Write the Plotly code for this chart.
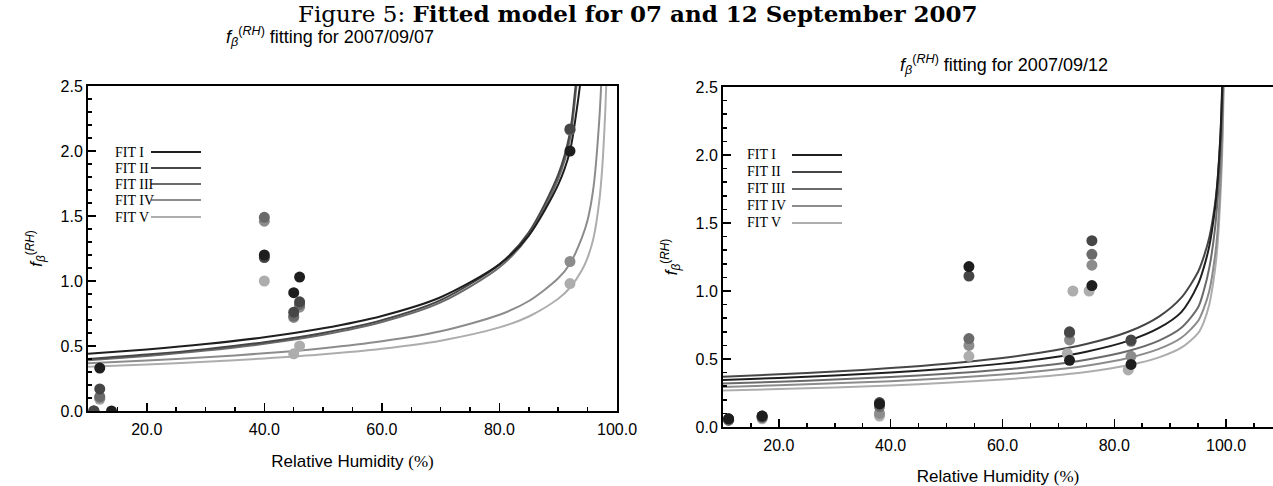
import plotly.graph_objects as go

W, H = 1273, 486

# ---------------- data: left panel (2007/09/07) ----------------
L_I_rh = [10, 20, 30, 40, 50, 60, 70, 80, 85, 90, 92, 93, 94, 95]
L_I_v = [0.44, 0.474, 0.515, 0.567, 0.636, 0.731, 0.875, 1.128, 1.351, 1.741, 2.0, 2.27, 2.62, 3.1]
L_II_rh = [10, 20, 30, 40, 50, 60, 70, 80, 85, 90, 92, 93, 94]
L_II_v = [0.40, 0.434, 0.476, 0.529, 0.600, 0.699, 0.853, 1.128, 1.375, 1.818, 2.14, 2.52, 2.95]
L_III_rh = [10, 20, 30, 40, 50, 60, 70, 80, 85, 90, 92, 93, 94]
L_III_v = [0.39, 0.424, 0.465, 0.517, 0.586, 0.684, 0.835, 1.106, 1.349, 1.786, 2.09, 2.46, 2.9]
L_IV_rh = [10, 20, 30, 40, 50, 60, 70, 80, 85, 90, 92, 94, 95, 96, 97, 97.5]
L_IV_v = [0.368, 0.388, 0.413, 0.444, 0.483, 0.536, 0.613, 0.740, 0.846, 1.021, 1.133, 1.33, 1.47, 1.72, 2.25, 2.7]
L_V_rh = [10, 20, 30, 40, 50, 60, 70, 80, 85, 90, 92, 94, 95, 96, 97, 97.5, 98, 98.5]
L_V_v = [0.340, 0.357, 0.378, 0.404, 0.436, 0.479, 0.541, 0.643, 0.727, 0.863, 0.948, 1.08, 1.18, 1.33, 1.62, 1.88, 2.3, 2.9]

LP_I_rh = [14, 12, 40, 45, 46, 92]
LP_I_v = [0.0, 0.33, 1.20, 0.91, 1.03, 2.0]
LP_II_rh = [11, 12, 40, 45, 46, 92]
LP_II_v = [0.0, 0.17, 1.18, 0.76, 0.84, 2.17]
LP_III_rh = [11, 12, 40, 45, 46, 92]
LP_III_v = [0.0, 0.11, 1.49, 0.73, 0.82, 2.16]
LP_IV_rh = [11, 12, 40, 45, 46, 92]
LP_IV_v = [0.0, 0.10, 1.46, 0.72, 0.80, 1.15]
LP_V_rh = [11, 12, 40, 45, 46, 92]
LP_V_v = [0.0, 0.09, 1.0, 0.44, 0.50, 0.98]

# ---------------- data: right panel (2007/09/12) ----------------
R_I_rh = [10, 20, 30, 40, 50, 60, 67, 75, 82.5, 88, 92, 95, 96, 97, 98, 98.5, 99, 99.3, 99.5]
R_I_v = [0.345, 0.361, 0.379, 0.401, 0.429, 0.466, 0.500, 0.554, 0.633, 0.728, 0.845, 1.05, 1.17, 1.33, 1.6, 1.82, 2.15, 2.5, 2.85]
R_II_rh = [10, 20, 30, 40, 50, 60, 67, 75, 82.5, 88, 92, 95, 96, 97, 98, 98.5, 99, 99.3, 99.5]
R_II_v = [0.37, 0.387, 0.408, 0.433, 0.465, 0.507, 0.547, 0.610, 0.70, 0.812, 0.951, 1.142, 1.25, 1.394, 1.632, 1.82, 2.139, 2.458, 2.803]
R_III_rh = [10, 20, 30, 40, 50, 60, 67, 75, 82.5, 88, 92, 95, 96, 97, 98, 98.5, 99, 99.3, 99.5, 99.7]
R_III_v = [0.320, 0.333, 0.349, 0.368, 0.391, 0.422, 0.450, 0.495, 0.559, 0.635, 0.729, 0.88, 1.0, 1.17, 1.45, 1.68, 2.0, 2.3, 2.6, 3.0]
R_IV_rh = [10, 20, 30, 40, 50, 60, 67, 75, 82.5, 88, 92, 95, 96, 97, 98, 98.5, 99, 99.3, 99.5, 99.7]
R_IV_v = [0.295, 0.307, 0.321, 0.337, 0.358, 0.386, 0.411, 0.450, 0.507, 0.574, 0.656, 0.78, 0.87, 1.0, 1.25, 1.45, 1.8, 2.1, 2.45, 2.9]
R_V_rh = [10, 20, 30, 40, 50, 60, 67, 75, 82.5, 88, 92, 95, 96, 97, 98, 98.5, 99, 99.3, 99.5, 99.7, 99.85]
R_V_v = [0.269, 0.279, 0.291, 0.306, 0.325, 0.349, 0.371, 0.405, 0.454, 0.512, 0.583, 0.69, 0.77, 0.9, 1.15, 1.35, 1.7, 2.0, 2.35, 2.8, 3.3]

RP_I_rh = [11, 17, 38, 54, 72, 76, 83]
RP_I_v = [0.06, 0.08, 0.17, 1.18, 0.49, 1.04, 0.46]
RP_II_rh = [11, 17, 38, 54, 72, 76, 83]
RP_II_v = [0.06, 0.08, 0.18, 1.11, 0.70, 1.37, 0.64]
RP_III_rh = [11, 17, 38, 54, 72, 76, 83]
RP_III_v = [0.05, 0.07, 0.15, 0.65, 0.69, 1.27, 0.63]
RP_IV_rh = [11, 17, 38, 54, 72, 76, 83]
RP_IV_v = [0.05, 0.07, 0.10, 0.60, 0.64, 1.19, 0.52]
RP_V_rh = [11, 17, 38, 54, 71.6, 72.6, 75.5, 82.5]
RP_V_v = [0.05, 0.06, 0.08, 0.52, 0.54, 1.0, 1.0, 0.42]

FIT_NAMES = ["FIT I", "FIT II", "FIT III", "FIT IV", "FIT V"]
COLORS = ["#1e1e1e", "#464646", "#6a6a6a", "#8c8c8c", "#adadad"]

left_curves = [(L_I_rh, L_I_v), (L_II_rh, L_II_v), (L_III_rh, L_III_v), (L_IV_rh, L_IV_v), (L_V_rh, L_V_v)]
left_pts = [(LP_I_rh, LP_I_v), (LP_II_rh, LP_II_v), (LP_III_rh, LP_III_v), (LP_IV_rh, LP_IV_v), (LP_V_rh, LP_V_v)]
right_curves = [(R_I_rh, R_I_v), (R_II_rh, R_II_v), (R_III_rh, R_III_v), (R_IV_rh, R_IV_v), (R_V_rh, R_V_v)]
right_pts = [(RP_I_rh, RP_I_v), (RP_II_rh, RP_II_v), (RP_III_rh, RP_III_v), (RP_IV_rh, RP_IV_v), (RP_V_rh, RP_V_v)]

fig = go.Figure()

for (curves, pts, xa, ya) in [(left_curves, left_pts, "x", "y"), (right_curves, right_pts, "x2", "y2")]:
    for i in range(4, -1, -1):
        rh, v = curves[i]
        fig.add_trace(go.Scatter(x=rh, y=v, mode="lines", xaxis=xa, yaxis=ya,
                                 line=dict(color=COLORS[i], width=2, shape="spline", smoothing=0.8),
                                 showlegend=False, hoverinfo="skip"))
    for i in range(4, -1, -1):
        rh, v = pts[i]
        fig.add_trace(go.Scatter(x=rh, y=v, mode="markers", xaxis=xa, yaxis=ya,
                                 marker=dict(color=COLORS[i], size=11, line=dict(width=0)),
                                 showlegend=False))

SANS = "Liberation Sans, Arial, sans-serif"
SERIF = "Liberation Serif, Times New Roman, serif"


def px_x(p):
    return p / W


def px_y(p):
    return 1 - p / H


axis_common = dict(showline=True, mirror=True, linecolor="black", linewidth=2,
                   ticks="inside", ticklen=8, tickwidth=1.5, tickcolor="black",
                   showgrid=False, zeroline=False, automargin=False,
                   tickfont=dict(family=SANS, size=16, color="black"))

xtitle = "Relative Humidity <span style='font-family:Liberation Serif'>(%)</span>"
ytitle = "<i>f</i><sub><i>β</i></sub><sup>(<i>RH</i>)</sup>"

fig.update_layout(
    width=W, height=H, margin=dict(l=0, r=0, t=0, b=0, pad=0), autosize=False,
    paper_bgcolor="white", plot_bgcolor="white", showlegend=False,
    xaxis=dict(domain=[px_x(88), px_x(617)], range=[10, 100], anchor="y",
               tickmode="linear", tick0=0, dtick=20, tickformat=".1f", ticklabelstandoff=3,
               minor=dict(tickmode="linear", tick0=0, dtick=5, ticks="inside", ticklen=4, tickcolor="black"),
               title=dict(text=xtitle, font=dict(family=SANS, size=17, color="black"), standoff=18),
               **axis_common),
    yaxis=dict(domain=[px_y(411), px_y(86)], range=[0, 2.5], anchor="x",
               tickmode="linear", tick0=0, dtick=0.5, tickformat=".1f",
               minor=dict(tickmode="linear", tick0=0, dtick=0.1, ticks="inside", ticklen=4, tickcolor="black"),
               title=dict(text=ytitle, font=dict(family=SANS, size=17, color="black"), standoff=14),
               **axis_common),
    xaxis2=dict(domain=[px_x(723), 1.0], range=[10, 108.4], anchor="y2",
                tickmode="linear", tick0=0, dtick=20, tickformat=".1f", ticklabelstandoff=3,
                minor=dict(tickmode="linear", tick0=0, dtick=5, ticks="inside", ticklen=4, tickcolor="black"),
                title=dict(text=xtitle, font=dict(family=SANS, size=17, color="black"), standoff=18),
                **axis_common),
    yaxis2=dict(domain=[px_y(427), px_y(87)], range=[0, 2.5], anchor="x2",
                tickmode="linear", tick0=0, dtick=0.5, tickformat=".1f",
                minor=dict(tickmode="linear", tick0=0, dtick=0.1, ticks="inside", ticklen=4, tickcolor="black"),
                title=dict(text=ytitle, font=dict(family=SANS, size=17, color="black"), standoff=14),
                **axis_common),
)

annotations = [
    dict(text="Figure 5: <b>Fitted model for 07 and 12 September 2007</b>",
         x=px_x(638), y=px_y(13), xref="paper", yref="paper", showarrow=False,
         xanchor="center", yanchor="middle", font=dict(family="DejaVu Serif", size=23, color="black")),
    dict(text=ytitle + " fitting for 2007/09/07",
         x=px_x(330), y=px_y(36), xref="paper", yref="paper", showarrow=False,
         xanchor="center", yanchor="middle", font=dict(family=SANS, size=18, color="black")),
    dict(text=ytitle + " fitting for 2007/09/12",
         x=px_x(1004), y=px_y(64), xref="paper", yref="paper", showarrow=False,
         xanchor="center", yanchor="middle", font=dict(family=SANS, size=18, color="black")),
]

shapes = []
legend_left_y = [152, 168, 184, 200, 217]
legend_right_y = [155, 172, 189, 206, 223]
for (tx, lx0, lx1, ys) in [(113, 151, 201, legend_left_y), (745, 792, 842, legend_right_y)]:
    for i, name in enumerate(FIT_NAMES):
        annotations.append(dict(text=name, x=px_x(tx), y=px_y(ys[i]), xref="paper", yref="paper",
                                showarrow=False, xanchor="left", yanchor="middle",
                                font=dict(family=SERIF, size=14, color="black")))
        shapes.append(dict(type="line", xref="paper", yref="paper",
                           x0=px_x(lx0), x1=px_x(lx1), y0=px_y(ys[i]), y1=px_y(ys[i]),
                           line=dict(color=COLORS[i], width=2)))

fig.update_layout(annotations=annotations, shapes=shapes)

fig.write_html("out.html", config={"displayModeBar": False, "staticPlot": True},
               post_script="document.body.style.margin='0px';document.body.style.overflow='hidden';")
